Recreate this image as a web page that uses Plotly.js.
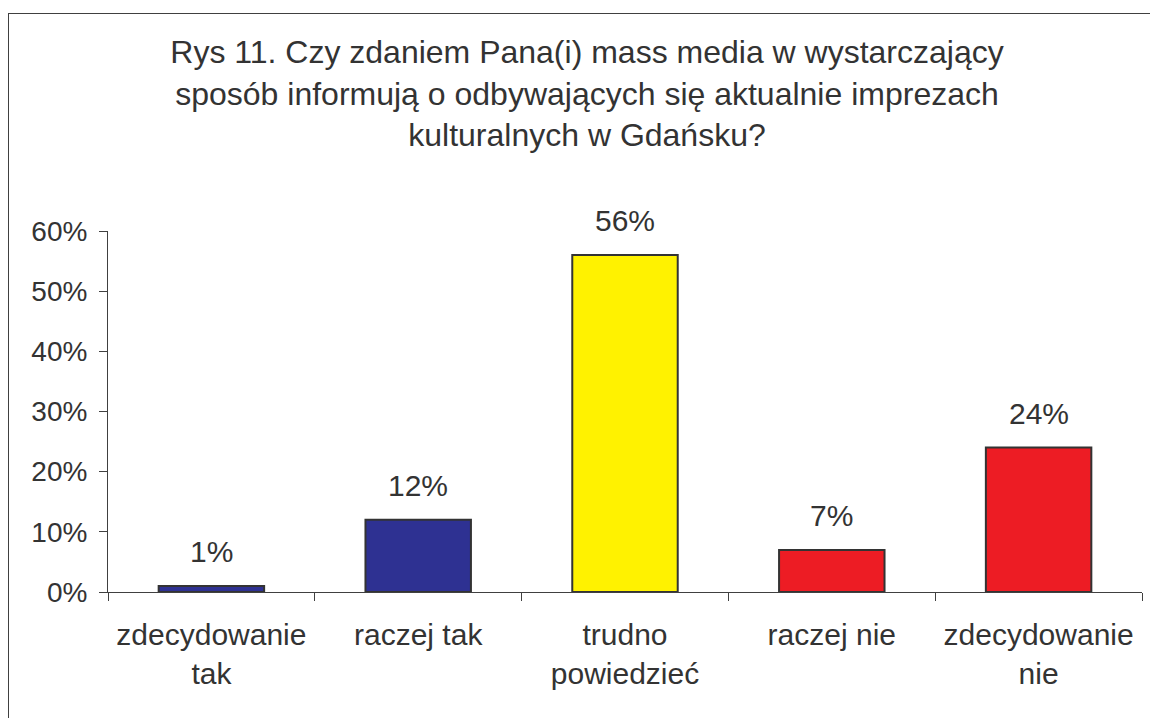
<!DOCTYPE html>
<html><head><meta charset="utf-8">
<script src="https://cdn.plot.ly/plotly-3.0.1.min.js"></script>
<style>
html,body{margin:0;padding:0;background:#fff;overflow:hidden;}
#frame{position:absolute;left:8px;top:13px;width:1300px;height:900px;border:1.5px solid #404040;box-sizing:border-box;}
#chart{position:absolute;left:0;top:0;width:1150px;height:718px;}
</style></head>
<body>
<div id="frame"></div>
<div id="chart"></div>
<script>
const categories = ["zdecydowanie<br>tak", "raczej tak", "trudno<br>powiedzieć", "raczej nie", "zdecydowanie<br>nie"];
const values = [0.01, 0.12, 0.56, 0.07, 0.24];
const labels = ["1%", "12%", "56%", "7%", "24%"];
const colors = ["#2E3192", "#2E3192", "#FFF200", "#ED1C24", "#ED1C24"];
const yTickVals = [0, 0.1, 0.2, 0.3, 0.4, 0.5, 0.6];
const yTickText = ["0%", "10%", "20%", "30%", "40%", "50%", "60%"];
const titleText = "Rys 11. Czy zdaniem Pana(i) mass media w wystarczający<br>sposób informują o odbywających się aktualnie imprezach<br>kulturalnych w Gdańsku?";

const fam = "Liberation Sans, Arial, sans-serif";
const txtColor = "#333333";

const trace = {
  type: "bar",
  x: categories,
  y: values,
  marker: {color: colors, line: {color: "#333333", width: 2}},
  hoverinfo: "none"
};

const annotations = categories.map((c, i) => ({
  x: c, y: values[i], xref: "x", yref: "y",
  text: labels[i], showarrow: false, yanchor: "bottom", yshift: 16,
  font: {family: fam, color: txtColor, size: 30}
}));

const layout = {
  width: 1150, height: 718,
  margin: {l: 108, r: 8, t: 231, b: 126},
  paper_bgcolor: "rgba(0,0,0,0)", plot_bgcolor: "rgba(0,0,0,0)",
  font: {family: fam, color: txtColor, size: 28},
  showlegend: false,
  bargap: 0.49,
  title: {
    text: titleText,
    font: {family: fam, color: txtColor, size: 32},
    xref: "container", x: 587/1150, xanchor: "center",
    yref: "container", y: 1 - 63/718, yanchor: "middle"
  },
  xaxis: {
    type: "category",
    tickson: "boundaries",
    ticks: "outside", ticklen: 8, tickcolor: "#404040", tickwidth: 1,
    showline: true, linecolor: "#404040", linewidth: 1,
    showgrid: false, zeroline: false,
    tickfont: {family: fam, color: txtColor, size: 30}, ticklabelstandoff: 16
  },
  yaxis: {
    range: [0, 0.6],
    tickvals: yTickVals, ticktext: yTickText,
    ticks: "outside", ticklen: 8, tickcolor: "#404040", tickwidth: 1,
    showline: true, linecolor: "#404040", linewidth: 1,
    showgrid: false, zeroline: false,
    tickfont: {family: fam, color: txtColor, size: 28}, ticklabelstandoff: 6
  },
  annotations: annotations
};

Plotly.newPlot("chart", [trace], layout, {displayModeBar: false, staticPlot: true});
</script>
</body></html>
